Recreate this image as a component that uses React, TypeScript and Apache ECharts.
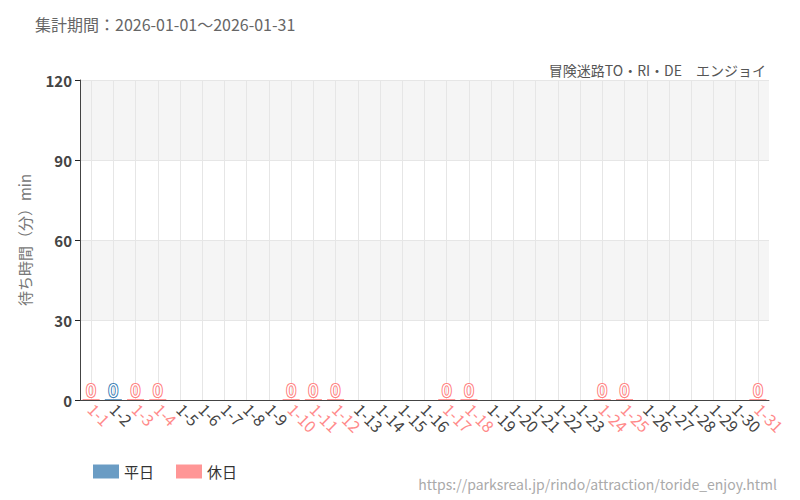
import React, { useEffect, useRef } from 'react'
import * as echarts from 'echarts'

const days = Array.from({ length: 31 }, (_, i) => `1-${i + 1}`)
const holidayDays = [1, 3, 4, 10, 11, 12, 17, 18, 24, 25, 31]
// null = no data that day
const weekdayValues: (number | null)[] = [
  null, 0, null, null, null, null, null, null, null, null,
  null, null, null, null, null, null, null, null, null, null,
  null, null, null, null, null, null, null, null, null, null, null
]
const holidayValues: (number | null)[] = [
  0, null, 0, 0, null, null, null, null, null, 0,
  0, 0, null, null, null, null, 0, 0, null, null,
  null, null, null, 0, 0, null, null, null, null, null, 0
]
const yTicks = [0, 30, 60, 90, 120]

const FONT = '"Noto Sans CJK JP", "Noto Sans", sans-serif'
const BLUE = '#6a9cc4'
const PINK = '#ff9696'

const App: React.FC = () => {
  const chartRef = useRef<HTMLDivElement>(null)

  useEffect(() => {
    if (!chartRef.current) return
    const chart = echarts.init(chartRef.current, undefined, { renderer: 'svg' })

    const label = (color: string) => ({
      show: true,
      position: 'top' as const,
      distance: 1,
      fontSize: 18,
      fontFamily: FONT,
      color: '#fff',
      textBorderColor: color,
      textBorderWidth: 2,
      formatter: (p: any) => (p.value == null ? '' : String(p.value))
    })

    const option: echarts.EChartsOption = {
      animation: false,
      textStyle: { fontFamily: FONT },
      title: [
        {
          text: '集計期間：2026-01-01～2026-01-31',
          left: 30,
          top: 11,
          textStyle: { fontSize: 16, fontWeight: 'normal', color: '#666', fontFamily: FONT }
        },
        {
          text: '冒険迷路TO・RI・DE　エンジョイ',
          right: 29,
          top: 58,
          textStyle: { fontSize: 14, fontWeight: 'normal', color: '#555', fontFamily: FONT }
        },
        {
          text: 'https://parksreal.jp/rindo/attraction/toride_enjoy.html',
          right: 18,
          top: 472,
          textStyle: { fontSize: 14, fontWeight: 'normal', color: '#aaa', fontFamily: FONT }
        }
      ],
      legend: {
        left: 88,
        top: 459,
        itemWidth: 26,
        itemHeight: 14,
        itemGap: 22,
        icon: 'rect',
        textStyle: { fontSize: 15, color: '#333', fontFamily: FONT },
        data: ['平日', '休日']
      },
      grid: { left: 80, right: 31, top: 80, bottom: 100 },
      xAxis: {
        type: 'category',
        data: days,
        axisLine: { lineStyle: { color: '#444' } },
        axisTick: { alignWithLabel: true, lineStyle: { color: '#222' } },
        splitLine: { show: true, alignWithLabel: true, lineStyle: { color: '#e6e6e6' } } as any,
        axisLabel: {
          interval: 0,
          rotate: -45,
          fontSize: 16,
          margin: 6,
          fontFamily: FONT,
          color: (v: any) => (holidayDays.includes(Number(String(v).split('-')[1])) ? '#ff8a8a' : '#444')
        }
      },
      yAxis: {
        type: 'value',
        min: yTicks[0],
        max: yTicks[yTicks.length - 1],
        interval: 30,
        name: '待ち時間（分）min',
        nameLocation: 'middle',
        nameGap: 48,
        nameTextStyle: { fontSize: 15, color: '#777', fontFamily: FONT },
        axisLine: { show: true, lineStyle: { color: '#444' } },
        axisTick: { show: true, lineStyle: { color: '#222' } },
        axisLabel: { fontSize: 15, color: '#444', fontWeight: 'bold', margin: 8, fontFamily: FONT },
        splitLine: { lineStyle: { color: '#e6e6e6' } },
        splitArea: { show: true, areaStyle: { color: ['#ffffff', '#f5f5f5'] } }
      },
      series: [
        {
          name: '平日',
          type: 'bar',
          stack: 'day',
          barWidth: 17,
          barMinHeight: 1,
          itemStyle: { color: BLUE },
          label: label('#3f7fb5'),
          data: weekdayValues
        },
        {
          name: '休日',
          type: 'bar',
          stack: 'day',
          barWidth: 17,
          barMinHeight: 1,
          itemStyle: { color: PINK },
          label: label('#ff8080'),
          data: holidayValues
        }
      ]
    }

    chart.setOption(option)
    return () => chart.dispose()
  }, [])

  return (
    <div
      ref={chartRef}
      style={{ position: 'absolute', left: 0, top: 0, width: 800, height: 500 }}
    />
  )
}

export default App
